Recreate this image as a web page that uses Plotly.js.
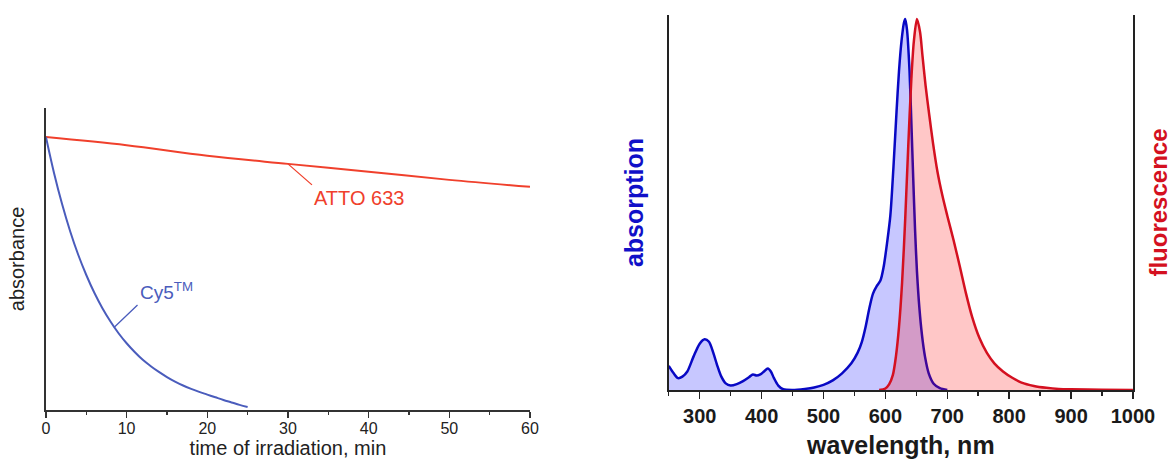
<!DOCTYPE html>
<html>
<head>
<meta charset="utf-8">
<script src="https://cdn.plot.ly/plotly-3.0.1.min.js"></script>
<style>
  html, body { margin: 0; padding: 0; background: #ffffff; }
  #chart { width: 1172px; height: 459px; }
</style>
</head>
<body>
<div id="chart"></div>
<script>
// ---- Left panel: photostability (absorbance vs time of irradiation) ----
const attoTime = [0, 10, 20, 30, 40, 50, 60];
const attoAbs  = [0.904, 0.877, 0.842, 0.815, 0.789, 0.762, 0.739];

const cy5Time = [0, 1, 2, 3, 4, 5, 6, 7, 8, 9, 10, 11, 12, 13, 14, 15, 16, 17, 18, 19, 20, 21, 22, 23, 24, 25];
const cy5Abs  = [0.904, 0.785, 0.682, 0.592, 0.514, 0.447, 0.388, 0.337, 0.293, 0.254, 0.221, 0.192, 0.166,
                 0.145, 0.126, 0.109, 0.094, 0.081, 0.070, 0.060, 0.051, 0.042, 0.033, 0.025, 0.017, 0.010];

const timeTicks = [0, 10, 20, 30, 40, 50, 60];

// ---- Right panel: absorption / fluorescence spectra ----
const absWl  = [250, 258, 265, 272, 280, 290, 300, 308, 315, 322, 328, 335, 342, 350, 360, 370, 380, 386, 392, 398,
                404, 410, 415, 420, 427, 435, 450, 470, 485, 500, 515, 530, 545, 555, 562, 568, 574, 580, 586, 592,
                597, 603, 608, 613, 618, 622, 626, 630, 632, 635, 639, 642, 645, 648, 651, 655, 659, 664, 670, 678, 688, 700];
const absVal = [0.065, 0.045, 0.032, 0.036, 0.050, 0.090, 0.125, 0.137, 0.130, 0.100, 0.068, 0.036, 0.018, 0.012,
                0.016, 0.024, 0.035, 0.042, 0.039, 0.042, 0.050, 0.058, 0.050, 0.032, 0.012, 0.002, 0.000, 0.003,
                0.007, 0.014, 0.026, 0.045, 0.072, 0.100, 0.130, 0.170, 0.220, 0.260, 0.280, 0.295, 0.330, 0.400,
                0.470, 0.600, 0.750, 0.860, 0.940, 0.990, 1.000, 0.970, 0.860, 0.720, 0.570, 0.430, 0.320, 0.220,
                0.150, 0.090, 0.045, 0.017, 0.005, 0.000];

const fluWl  = [590, 600, 606, 612, 617, 622, 627, 632, 637, 642, 646, 651, 656, 660, 665, 671, 677, 684, 692, 700,
                710, 720, 730, 740, 752, 764, 776, 790, 805, 820, 840, 860, 880, 900, 950, 1000];
const fluVal = [0.000, 0.004, 0.015, 0.040, 0.090, 0.170, 0.290, 0.460, 0.660, 0.840, 0.940, 1.000, 0.965, 0.900,
                0.820, 0.740, 0.665, 0.590, 0.525, 0.470, 0.405, 0.335, 0.262, 0.198, 0.140, 0.100, 0.072, 0.050,
                0.033, 0.020, 0.011, 0.006, 0.003, 0.002, 0.001, 0.000];

const wlTicks = [300, 400, 500, 600, 700, 800, 900, 1000];

const traces = [
  { x: attoTime, y: attoAbs, type: 'scatter', mode: 'lines', name: 'ATTO 633',
    line: { color: '#f0402c', width: 2, shape: 'spline' }, xaxis: 'x', yaxis: 'y', hoverinfo: 'skip' },
  { x: cy5Time, y: cy5Abs, type: 'scatter', mode: 'lines', name: 'Cy5',
    line: { color: '#4a5cbc', width: 2, shape: 'spline' }, xaxis: 'x', yaxis: 'y', hoverinfo: 'skip' },
  { x: absWl, y: absVal, type: 'scatter', mode: 'lines', name: 'absorption',
    line: { color: '#0808c4', width: 2.5, shape: 'spline', smoothing: 0.8 },
    fill: 'tozeroy', fillcolor: 'rgba(0,0,255,0.22)', xaxis: 'x2', yaxis: 'y2', hoverinfo: 'skip' },
  { x: fluWl, y: fluVal, type: 'scatter', mode: 'lines', name: 'fluorescence',
    line: { color: '#d41020', width: 2.5, shape: 'spline', smoothing: 0.8 },
    fill: 'tozeroy', fillcolor: 'rgba(255,0,0,0.22)', xaxis: 'x2', yaxis: 'y3', hoverinfo: 'skip' }
];

const leftFont = { family: 'Liberation Sans, Arial, sans-serif', color: '#222222' };
const rightFont = { family: 'Liberation Sans, Arial, sans-serif', color: '#1a1a1a', weight: 'bold' };

const layout = {
  width: 1172, height: 459,
  margin: { l: 0, r: 0, t: 0, b: 0 },
  paper_bgcolor: '#ffffff', plot_bgcolor: 'rgba(0,0,0,0)',
  showlegend: false,
  xaxis: {
    domain: [0.0392, 0.4522], anchor: 'y', range: [0, 60],
    tickvals: timeTicks, ticktext: timeTicks.map(String),
    ticks: 'outside', ticklen: 6, tickwidth: 1.5, tickcolor: '#333333',
    ticklabelstandoff: -3,
    minor: { dtick: 5, tick0: 0, ticks: 'outside', ticklen: 3, tickwidth: 1.5, tickcolor: '#333333' },
    showline: true, linecolor: '#333333', linewidth: 2,
    showgrid: false, zeroline: false,
    tickfont: Object.assign({ size: 16 }, leftFont),
    title: { text: 'time of irradiation, min', standoff: 0, font: Object.assign({ size: 20 }, leftFont) }
  },
  yaxis: {
    domain: [0.1068, 0.7647], anchor: 'x', range: [0, 1],
    showticklabels: false, ticks: '',
    showline: true, linecolor: '#333333', linewidth: 2,
    showgrid: false, zeroline: false,
    title: { text: 'absorbance', standoff: 14, font: Object.assign({ size: 20 }, leftFont) }
  },
  xaxis2: {
    domain: [0.5706, 0.9667], anchor: 'y2', range: [250, 1000],
    tickvals: wlTicks, ticktext: wlTicks.map(String),
    ticks: 'outside', ticklen: 7, tickwidth: 1.5, tickcolor: '#222222',
    minor: { dtick: 50, tick0: 250, ticks: 'outside', ticklen: 4, tickwidth: 1.5, tickcolor: '#222222' },
    showline: true, linecolor: '#222222', linewidth: 2,
    showgrid: false, zeroline: false,
    tickfont: Object.assign({ size: 20 }, rightFont),
    title: { text: 'wavelength, nm', standoff: 10, font: Object.assign({ size: 25 }, rightFont) }
  },
  yaxis2: {
    domain: [0.1503, 0.9673], anchor: 'x2', range: [0, 1.011],
    showticklabels: false, ticks: '',
    showline: true, linecolor: '#222222', linewidth: 2,
    showgrid: false, zeroline: false,
    title: { text: 'absorption', standoff: 16,
             font: { family: 'Liberation Sans, Arial, sans-serif', size: 25, color: '#1010c8', weight: 'bold' } }
  },
  yaxis3: {
    overlaying: 'y2', side: 'right', anchor: 'x2', range: [0, 1.011],
    showticklabels: false, ticks: '',
    showline: true, linecolor: '#222222', linewidth: 2,
    showgrid: false, zeroline: false,
    title: { text: 'fluorescence', standoff: 18,
             font: { family: 'Liberation Sans, Arial, sans-serif', size: 24, color: '#d41020', weight: 'bold' } }
  },
  annotations: [
    { xref: 'x', yref: 'y', x: 30, y: 0.815, text: 'ATTO 633',
      showarrow: true, arrowhead: 0, arrowwidth: 1.3, arrowcolor: '#f0402c', ax: 24, ay: 21,
      xanchor: 'left', yanchor: 'top', standoff: 0,
      font: { family: 'Liberation Sans, Arial, sans-serif', size: 20, color: '#f0402c' } },
    { xref: 'x', yref: 'y', x: 8.5, y: 0.275, text: 'Cy5<sup>TM</sup>',
      showarrow: true, arrowhead: 0, arrowwidth: 1.3, arrowcolor: '#4a5cbc', ax: 23, ay: -22,
      xanchor: 'left', yanchor: 'bottom', standoff: 0,
      font: { family: 'Liberation Sans, Arial, sans-serif', size: 19, color: '#4a5cbc' } }
  ]
};

Plotly.newPlot('chart', traces, layout, { displayModeBar: false, staticPlot: true });
</script>
</body>
</html>
